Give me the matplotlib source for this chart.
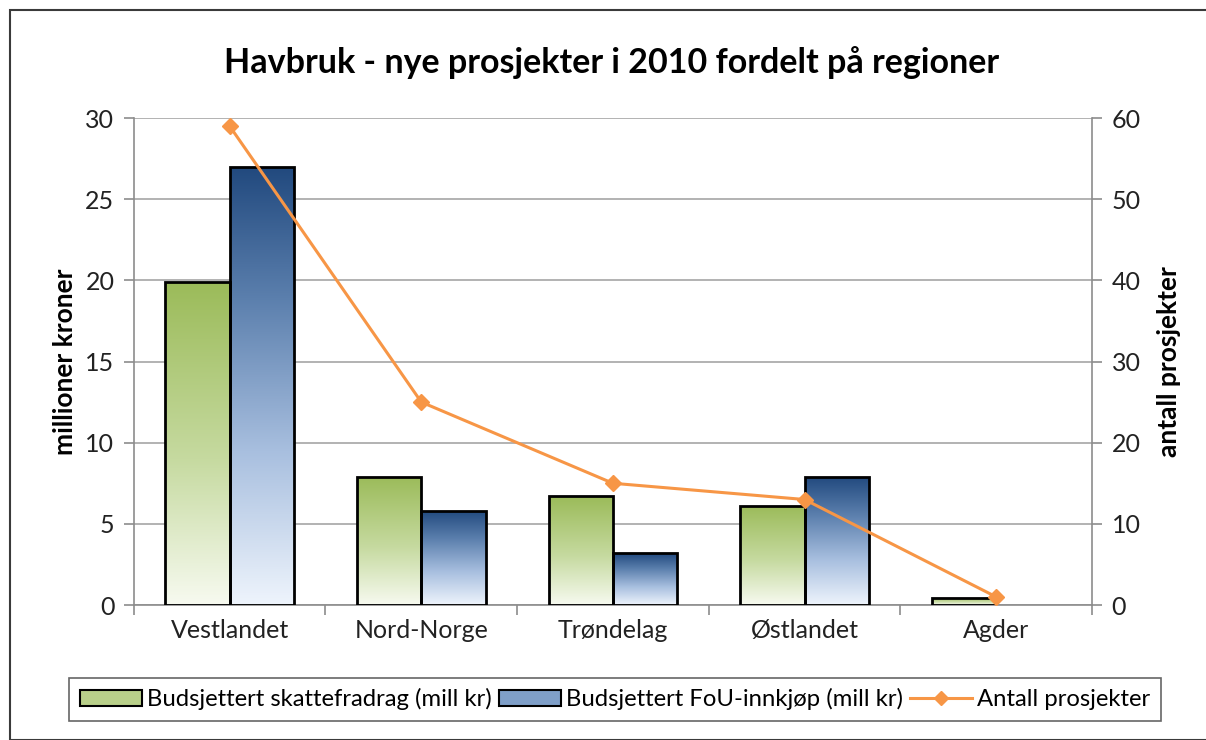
import numpy as np
import matplotlib
matplotlib.use("Agg")
import matplotlib.pyplot as plt
from matplotlib.colors import LinearSegmentedColormap
from matplotlib.patches import Rectangle
from matplotlib.lines import Line2D
from matplotlib.patches import Patch

regions = ["Vestlandet", "Nord-Norge", "Trøndelag", "Østlandet", "Agder"]
skattefradrag = [19.9, 7.9, 6.7, 6.1, 0.45]
fou_innkjop = [27.0, 5.8, 3.2, 7.9, 0.0]
antall = [59, 25, 15, 13, 1]

plt.rcParams["font.family"] = ["Lato", "DejaVu Sans"]

green_cmap = LinearSegmentedColormap.from_list(
    "g", [(0, "#f7faf0"), (0.45, "#c6daa0"), (1, "#9bbb59")])
blue_cmap = LinearSegmentedColormap.from_list(
    "b", [(0, "#eef4fc"), (0.35, "#a8bfdf"), (0.7, "#5b7fad"), (1, "#21497e")])

fig = plt.figure(figsize=(12.06, 7.4), dpi=100)
ax = fig.add_axes([0.111, 0.1824, 0.7945, 0.6581])

x = np.arange(len(regions))
w = 0.335
grad = np.linspace(0, 1, 256).reshape(-1, 1)


def gradient_bars(xs, vals, cmap):
    bars = ax.bar(xs, vals, w, facecolor="none", edgecolor="black", linewidth=2.0, zorder=3)
    for b in bars:
        h = b.get_height()
        if h <= 0:
            b.set_visible(False)
            continue
        im = ax.imshow(grad, cmap=cmap, origin="lower", aspect="auto",
                       extent=(b.get_x(), b.get_x() + b.get_width(), 0, h), zorder=2)
        im.set_clip_path(b)
    return bars


gradient_bars(x - w / 2, skattefradrag, green_cmap)
gradient_bars(x + w / 2, fou_innkjop, blue_cmap)

ax.set_xlim(-0.5, 4.5)
ax.set_ylim(0, 30)
ax.set_yticks(np.arange(0, 31, 5))
ax.yaxis.grid(True, color="#a6a6a6", linewidth=1.2, zorder=0)
ax.set_axisbelow(True)
ax.set_xticks(np.arange(-0.5, 4.6, 1.0))
ax.set_xticklabels([])
ax.set_xticks(x, minor=True)
ax.set_xticklabels(regions, minor=True)
ax.tick_params(axis="x", which="minor", length=0, pad=10, labelsize=18, labelcolor="#222222")
ax.tick_params(axis="x", which="major", length=7, color="#8c8c8c", width=1.2)
ax.tick_params(axis="y", length=7, color="#8c8c8c", width=1.2, labelsize=18,
               labelcolor="#222222", pad=7)
for s in ["top", "right"]:
    ax.spines[s].set_visible(False)
for s in ["left", "bottom"]:
    ax.spines[s].set_color("#8c8c8c")
    ax.spines[s].set_linewidth(1.2)
ax.set_ylabel("millioner kroner", fontsize=19, fontweight="bold", labelpad=6)

ax2 = ax.twinx()
ax2.plot(x, antall, color="#f79646", linewidth=2.2, marker="D", markersize=8, zorder=5)
ax2.set_ylim(0, 60)
ax2.set_yticks(np.arange(0, 61, 10))
ax2.tick_params(axis="y", length=7, color="#8c8c8c", width=1.2, labelsize=18,
                labelcolor="#222222", pad=7)
for s in ["top", "left", "bottom"]:
    ax2.spines[s].set_visible(False)
ax2.spines["right"].set_color("#8c8c8c")
ax2.spines["right"].set_linewidth(1.2)
ax2.set_ylabel("antall prosjekter", fontsize=19, fontweight="bold", labelpad=12)

fig.text(0.507, 0.915, "Havbruk - nye prosjekter i 2010 fordelt på regioner",
         ha="center", va="center", fontsize=24.5, fontweight="bold")

handles = [
    Patch(facecolor="#b9d08a", edgecolor="black", linewidth=1.5),
    Patch(facecolor="#7f9fc8", edgecolor="black", linewidth=1.5),
    Line2D([0], [0], color="#f79646", linewidth=2.2, marker="D", markersize=7),
]
labels = ["Budsjettert skattefradrag (mill kr)", "Budsjettert FoU-innkjøp (mill kr)",
          "Antall prosjekter"]
leg = fig.legend(handles, labels, loc="center", bbox_to_anchor=(0.51, 0.055), ncol=3,
                 fontsize=17.2, frameon=True, fancybox=False, edgecolor="#404040",
                 handlelength=2.6, handletextpad=0.2, columnspacing=0.3, borderpad=0.45)
leg.get_frame().set_linewidth(1.2)

fig.patches.append(Rectangle((10 / 1206, 0.0), 1.2, 1 - 10 / 740, transform=fig.transFigure,
                             fill=False, edgecolor="#3a3a3a", linewidth=1.5))

fig.savefig("out.png", dpi=100)
